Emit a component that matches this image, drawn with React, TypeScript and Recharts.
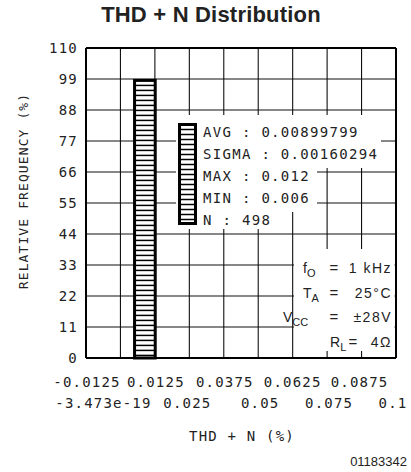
import { BarChart, Bar, XAxis, YAxis, CartesianGrid, ReferenceLine } from 'recharts';

// histogram bins (THD+N %) and relative frequency (%)
const binStarts = [0.005];
const binEnds = [0.0125];
const relFreq = [98.5];

const xDomain = [-0.0125, 0.1];
const xTicks = [-0.0125, 0, 0.0125, 0.025, 0.0375, 0.05, 0.0625, 0.075, 0.0875, 0.1];
const xTickLabels = ['-0.0125', '-3.473e-19', '0.0125', '0.025', '0.0375', '0.05', '0.0625', '0.075', '0.0875', '0.1'];
const xLabelShift = [1, -17, 1, -2, 1, 2, 0, 2, -2, -3];
const yTicks = [0, 11, 22, 33, 44, 55, 66, 77, 88, 99, 110];

const statNames = ['AVG', 'SIGMA', 'MAX', 'MIN', 'N'];
const statValues = ['0.00899799', '0.00160294', '0.012', '0.006', '498'];

const condMain = ['f', 'T', 'V', 'R'];
const condSub = ['O', 'A', 'CC', 'L'];
const condValues = ['1 kHz', '25°C', '±28V', '4Ω'];

const W = 411;
const H = 472;
const MARGIN = { top: 48, right: 15, bottom: 54, left: 0 };
const Y_AXIS_W = 86;
const X_AXIS_H = 60;
const PLOT_W = W - MARGIN.left - MARGIN.right - Y_AXIS_W;

const MONO = "'DejaVu Sans Mono', monospace";
const SANS = "'Liberation Sans', Arial, sans-serif";

const data = binStarts.map((s, i) => ({ thd: (s + binEnds[i]) / 2, freq: relFreq[i] }));
const barSize = ((binEnds[0] - binStarts[0]) / (xDomain[1] - xDomain[0])) * PLOT_W;

function Stripes({ x, y, width, height, step = 5 }: any) {
  const lines = [];
  for (let ly = y + step; ly < y + height - 2; ly += step) {
    lines.push(<line key={ly} x1={x} x2={x + width} y1={ly} y2={ly} stroke="#000" strokeWidth={1.5} />);
  }
  return (
    <g>
      <rect x={x} y={y} width={width} height={height} fill="#fff" />
      {lines}
      <rect x={x} y={y} width={width} height={height} fill="none" stroke="#000" strokeWidth={3} />
    </g>
  );
}

function HatchedBar(props: any) {
  const { x, y, width, height } = props;
  if (!height) return null;
  return <Stripes x={x} y={y} width={width} height={height} />;
}

function XTick(props: any) {
  const { x, y, payload } = props;
  const i = xTicks.indexOf(payload.value);
  if (i < 0) return null;
  const row = i % 2;
  return (
    <text
      x={x + xLabelShift[i]}
      y={y + (row === 0 ? 21 : 42)}
      textAnchor="middle"
      fontFamily={MONO}
      fontSize={14}
      letterSpacing={1.2}
      fill="#222"
    >
      {xTickLabels[i]}
    </text>
  );
}

export default function App() {
  return (
    <div style={{ position: 'absolute', left: 0, top: 0, width: W, height: H, background: '#fff' }}>
      <BarChart width={W} height={H} data={data} margin={MARGIN}>
        <CartesianGrid stroke="#111" strokeWidth={1.1} />
        <XAxis
          dataKey="thd"
          type="number"
          domain={xDomain}
          ticks={xTicks}
          interval={0}
          allowDataOverflow
          height={X_AXIS_H}
          tickLine={false}
          axisLine={{ stroke: '#000', strokeWidth: 2 }}
          tick={<XTick />}
        />
        <YAxis
          type="number"
          domain={[0, 110]}
          ticks={yTicks}
          interval={0}
          width={Y_AXIS_W}
          tickLine={false}
          axisLine={{ stroke: '#000', strokeWidth: 2 }}
          tick={{ fontFamily: MONO, fontSize: 14, fill: '#222', letterSpacing: 1.2 }}
        />
        <ReferenceLine y={110} stroke="#000" strokeWidth={2} />
        <ReferenceLine x={0.1} stroke="#000" strokeWidth={2} />
        <Bar dataKey="freq" barSize={barSize} isAnimationActive={false} shape={<HatchedBar />} />
      </BarChart>

      <svg width={W} height={H} style={{ position: 'absolute', left: 0, top: 0, pointerEvents: 'none' }}>
        <text
          x={211}
          y={22}
          textAnchor="middle"
          fontFamily={SANS}
          fontWeight="bold"
          fontSize={22}
          letterSpacing={0.2}
          fill="#222"
        >
          THD + N Distribution
        </text>

        {/* stats legend */}
        <rect x={176} y={115} width={205} height={53} fill="#fff" />
        <rect x={176} y={168} width={141} height={44} fill="#fff" />
        <rect x={176} y={212} width={115} height={17} fill="#fff" />
        <Stripes x={179.5} y={124.5} width={16} height={99} />
        {statNames.map((n, i) => (
          <text key={n} x={203} y={137 + i * 22} fontFamily={MONO} fontSize={14} letterSpacing={1.3} fill="#222">
            {n} : {statValues[i]}
          </text>
        ))}

        {/* test conditions */}
        <rect x={294} y={249} width={100.5} height={102} fill="#fff" />
        {condMain.map((m, i) => {
          const yy = 273 + i * 24.5;
          const isR = i === 3;
          const lx = isR ? 330 : i === 2 ? 283 : 303;
          const ex = isR ? 353 : 334;
          return (
            <g key={m} fontFamily={SANS} fontSize={14} fill="#222">
              <text x={lx} y={yy}>
                {m}
                <tspan fontSize={11} dy={4}>
                  {condSub[i]}
                </tspan>
              </text>
              <text x={ex} y={yy} textAnchor="middle" fontSize={15}>
                =
              </text>
              <text x={392} y={yy} textAnchor="end" letterSpacing={1.5}>
                {condValues[i]}
              </text>
            </g>
          );
        })}

        <text
          x={23}
          y={191}
          transform="rotate(-90 23 191)"
          textAnchor="middle"
          dominantBaseline="central"
          fontFamily={MONO}
          fontSize={13}
          letterSpacing={1.1}
          fill="#222"
        >
          RELATIVE FREQUENCY (%)
        </text>
        <text x={242} y={441} textAnchor="middle" fontFamily={MONO} fontSize={14} letterSpacing={1.2} fill="#222">
          THD + N (%)
        </text>
        <text x={407} y={466} textAnchor="end" fontFamily={SANS} fontSize={13} fill="#222">
          01183342
        </text>
      </svg>
    </div>
  );
}
